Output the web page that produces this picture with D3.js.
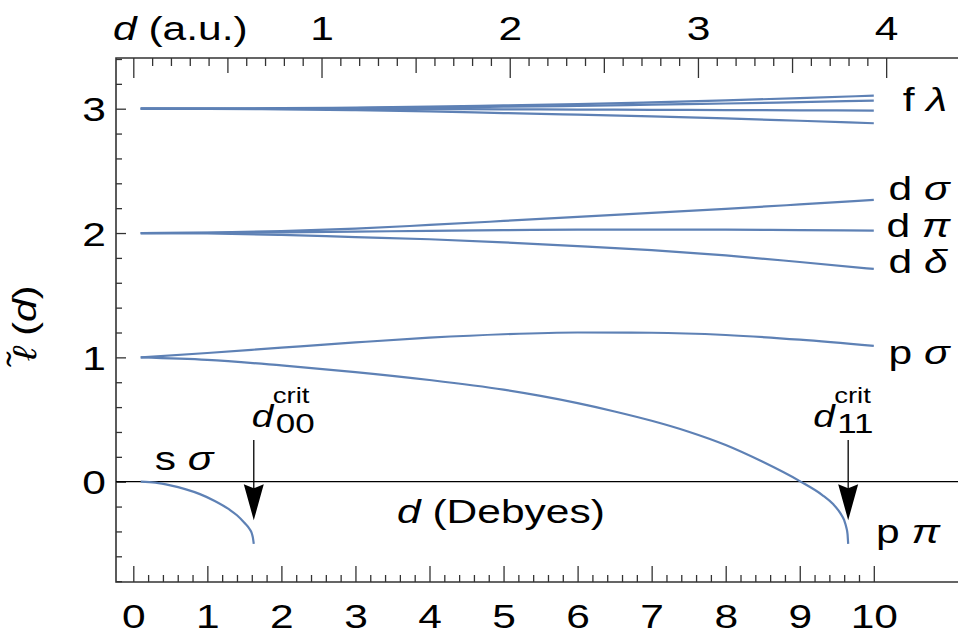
<!doctype html>
<html>
  <head>
    <style>
      body { margin: 0; background: #fff; }
      text { font-family: 'Liberation Sans', Arial, sans-serif; fill: #000; }
    </style>
  </head>
  <body>
    <svg id='chart0'></svg>

    <script src='https://cdn.jsdelivr.net/npm/d3@7'></script>
    <script>
      // Curve values. Most curves share the same d grid (Debyes).
      const d_grid = [0.1, 1, 2, 3, 4, 5, 6, 7, 8, 9, 10];
      const f_1 = [3, 3.001, 3.004, 3.009, 3.016, 3.026, 3.037, 3.051, 3.067, 3.085, 3.105];
      const f_2 = [3, 3.0005, 3.002, 3.005, 3.01, 3.016, 3.023, 3.032, 3.042, 3.053, 3.065];
      const f_3 = [3, 3, 2.999, 2.998, 2.997, 2.995, 2.993, 2.991, 2.989, 2.987, 2.985];
      const f_4 = [3, 2.999, 2.995, 2.988, 2.978, 2.965, 2.952, 2.938, 2.922, 2.903, 2.883];
      const d_sigma = [2, 2.003, 2.015, 2.035, 2.065, 2.097, 2.13, 2.162, 2.195, 2.23, 2.266];
      const d_pi = [2, 2.001, 2.005, 2.011, 2.018, 2.023, 2.027, 2.028, 2.027, 2.024, 2.019];
      const d_delta = [2, 1.997, 1.985, 1.967, 1.95, 1.925, 1.895, 1.862, 1.82, 1.767, 1.711];
      const p_sigma = [1, 1.035, 1.078, 1.12, 1.158, 1.186, 1.2, 1.198, 1.18, 1.142, 1.092];

      // p pi and s sigma end at their critical dipole moments, so they get their own grids.
      const p_pi_d = [0.1, 1, 2, 3, 4, 5, 5.5, 6, 6.5, 7, 7.5, 8, 8.5, 9, 9.3, 9.45, 9.55, 9.6,
                      9.63, 9.645, 9.654];
      const p_pi = [1, 0.98, 0.935, 0.882, 0.818, 0.74, 0.69, 0.632, 0.565, 0.49, 0.402, 0.295,
                    0.16, 0.005, -0.105, -0.18, -0.255, -0.31, -0.37, -0.42, -0.5];
      const s_sigma_d = [0.1, 0.3, 0.5, 0.7, 0.9, 1.1, 1.3, 1.4, 1.5, 1.57, 1.6, 1.615, 1.627];
      const s_sigma = [0, -0.008, -0.03, -0.06, -0.1, -0.155, -0.225, -0.27, -0.33, -0.38,
                       -0.415, -0.45, -0.5];

      const x_ticks = [0, 1, 2, 3, 4, 5, 6, 7, 8, 9, 10];
      const y_ticks = [0, 1, 2, 3];
      const au_ticks = [0, 1, 2, 3, 4];
      const au_labels = ['', '1', '2', '3', '4'];
      const debye_per_au = 2.541746;

      const series = [
        [d_grid, f_1], [d_grid, f_2], [d_grid, f_3], [d_grid, f_4],
        [d_grid, d_sigma], [d_grid, d_pi], [d_grid, d_delta],
        [d_grid, p_sigma], [p_pi_d, p_pi], [s_sigma_d, s_sigma],
      ];

      // curve labels: [letter, greek, d, value]
      const curve_labels = [
        ['f', 'λ', 10.39, 2.98],
        ['d', 'σ', 10.2, 2.265],
        ['d', 'π', 10.17, 1.97],
        ['d', 'δ', 10.2, 1.68],
        ['p', 'σ', 10.2, 0.95],
        ['p', 'π', 10.03, -0.49],
        ['s', 'σ', 0.29, 0.095],
      ];
      // critical points: [d, subscript]
      const crit_points = [[1.627, '00'], [9.654, '11']];

      const width = 958;
      const height = 639;
      const frame = ({left: 116, right: 958, top: 58, bottom: 582});
      const sx = 1.25;   // the reference font is wider than Liberation Sans
      const blue = '#5e81b5';

      const x = d3.scaleLinear().domain([0, 10]).range([133.3, 873.8]);
      const y = d3.scaleLinear().domain([0, 3]).range([481.7, 108.7]);
      const x_au = d3.scaleLinear().domain([0, 1]).range([x(0), x(debye_per_au)]);

      const svg = d3.select('svg#chart0')
                    .attr('width', width)
                    .attr('height', height);

      function add_text(parent, px, py, size, anchor) {
        return parent.append('text')
                     .attr('transform', `translate(${px},${py}) scale(${sx},1)`)
                     .attr('font-size', size)
                     .attr('text-anchor', anchor || 'start');
      }

      // minor / medium / major ticks, all pointing into the frame
      const minor_x = d3.range(0, 10.001, 0.2).filter(v => Math.abs(v - Math.round(v)) > 1e-6);
      const minor_y = d3.range(-0.8, 3.401, 0.2).filter(v => Math.abs(v - Math.round(v)) > 1e-6);
      const minor_au = d3.range(0, 4.001, 0.1).filter(v => Math.abs(v * 2 - Math.round(v * 2)) > 1e-6);
      const mid_au = [0.5, 1.5, 2.5, 3.5];

      const ax_color = '#333';
      function style_axis(g) {
        g.select('.domain').remove();
        g.selectAll('line').attr('stroke', ax_color).attr('stroke-width', 1.3);
      }

      svg.append('g')
         .attr('transform', `translate(0,${frame.bottom})`)
         .call(d3.axisBottom(x).tickValues(minor_x).tickSize(-7).tickFormat(''))
         .call(style_axis);
      const bottom_axis = svg.append('g')
         .attr('transform', `translate(0,${frame.bottom})`)
         .call(d3.axisBottom(x).tickValues(x_ticks).tickSize(-16).tickFormat(d3.format('d')))
         .call(style_axis);
      bottom_axis.selectAll('text')
         .attr('y', 0).attr('dy', 0)
         .attr('transform', `translate(0,46) scale(${sx},1)`)
         .attr('font-size', 34).attr('font-family', null).attr('fill', '#000');

      svg.append('g')
         .attr('transform', `translate(${frame.left},0)`)
         .call(d3.axisLeft(y).tickValues(minor_y).tickSize(-6).tickFormat(''))
         .call(style_axis);
      const left_axis = svg.append('g')
         .attr('transform', `translate(${frame.left},0)`)
         .call(d3.axisLeft(y).tickValues(y_ticks).tickSize(-10).tickFormat(d3.format('d')))
         .call(style_axis);
      left_axis.selectAll('text')
         .attr('x', 0).attr('dy', 0)
         .attr('transform', `translate(-10,12) scale(${sx},1)`)
         .attr('font-size', 34).attr('font-family', null).attr('fill', '#000');

      svg.append('g')
         .attr('transform', `translate(0,${frame.top})`)
         .call(d3.axisTop(x_au).tickValues(minor_au).tickSize(-8).tickFormat(''))
         .call(style_axis);
      svg.append('g')
         .attr('transform', `translate(0,${frame.top})`)
         .call(d3.axisTop(x_au).tickValues(mid_au).tickSize(-15).tickFormat(''))
         .call(style_axis);
      const top_axis = svg.append('g')
         .attr('transform', `translate(0,${frame.top})`)
         .call(d3.axisTop(x_au).tickValues(au_ticks).tickSize(-20).tickFormat((d, i) => au_labels[i]))
         .call(style_axis);
      top_axis.selectAll('text')
         .attr('y', 0).attr('dy', 0)
         .attr('transform', `translate(0,-18) scale(${sx},1)`)
         .attr('font-size', 34).attr('font-family', null).attr('fill', '#000');

      // frame: left, top and bottom edges
      svg.append('path')
         .attr('d', `M${frame.right},${frame.top}H${frame.left}V${frame.bottom}H${frame.right}`)
         .attr('fill', 'none')
         .attr('stroke', ax_color)
         .attr('stroke-width', 1.6);

      // zero line
      svg.append('line')
         .attr('x1', frame.left).attr('x2', frame.right)
         .attr('y1', y(0)).attr('y2', y(0))
         .attr('stroke', '#000').attr('stroke-width', 1.2);

      const line = d3.line()
                     .x(d => x(d[0]))
                     .y(d => y(d[1]))
                     .curve(d3.curveMonotoneX);

      svg.append('g')
         .selectAll('path')
         .data(series)
         .join('path')
         .attr('d', s => line(s[0].map((v, i) => [v, s[1][i]])))
         .attr('fill', 'none')
         .attr('stroke', blue)
         .attr('stroke-width', 2.2);

      // curve labels
      for (const [letter, greek, ld, lv] of curve_labels) {
        const t = add_text(svg, x(ld), y(lv), 34);
        t.append('tspan').text(letter + ' ');
        t.append('tspan').attr('font-style', 'italic').text(greek);
      }

      // arrows at the critical dipole moments
      const arrow_top = 0.335;
      const arrow_tip = -0.31;
      for (const [cd, sub] of crit_points) {
        const ax = x(cd);
        svg.append('line')
           .attr('x1', ax).attr('x2', ax)
           .attr('y1', y(arrow_top)).attr('y2', y(arrow_tip) - 20)
           .attr('stroke', '#000').attr('stroke-width', 1.3);
        const tip = y(arrow_tip);
        svg.append('path')
           .attr('d', `M${ax},${tip}L${ax - 10},${tip - 36}L${ax},${tip - 32}L${ax + 10},${tip - 36}Z`)
           .attr('fill', '#000');
        const dx = sub === '00' ? -2 : -35;
        add_text(svg, ax + dx, y(arrow_top) - 13, 31).attr('font-style', 'italic').text('d');
        add_text(svg, ax + dx + 21, y(arrow_top) - 37, 22).text('crit');
        add_text(svg, ax + dx + 24, y(arrow_top) - 7, 28).text(sub);
      }

      // axis titles
      const bt = add_text(svg, 397, 523, 34);
      bt.append('tspan').attr('font-style', 'italic').text('d');
      bt.append('tspan').text(' (Debyes)');

      const tt = add_text(svg, 113, 40, 34);
      tt.append('tspan').attr('font-style', 'italic').text('d');
      tt.append('tspan').text(' (a.u.)');

      const yl = svg.append('text')
                    .attr('transform', `translate(36,323) rotate(-90) scale(${sx},1)`)
                    .attr('font-size', 33)
                    .attr('text-anchor', 'middle');
      yl.append('tspan').attr('font-style', 'italic').text('ℓ\u0303');
      yl.append('tspan').text(' (');
      yl.append('tspan').attr('font-style', 'italic').text('d');
      yl.append('tspan').text(')');
    </script>
  </body>
</html>
